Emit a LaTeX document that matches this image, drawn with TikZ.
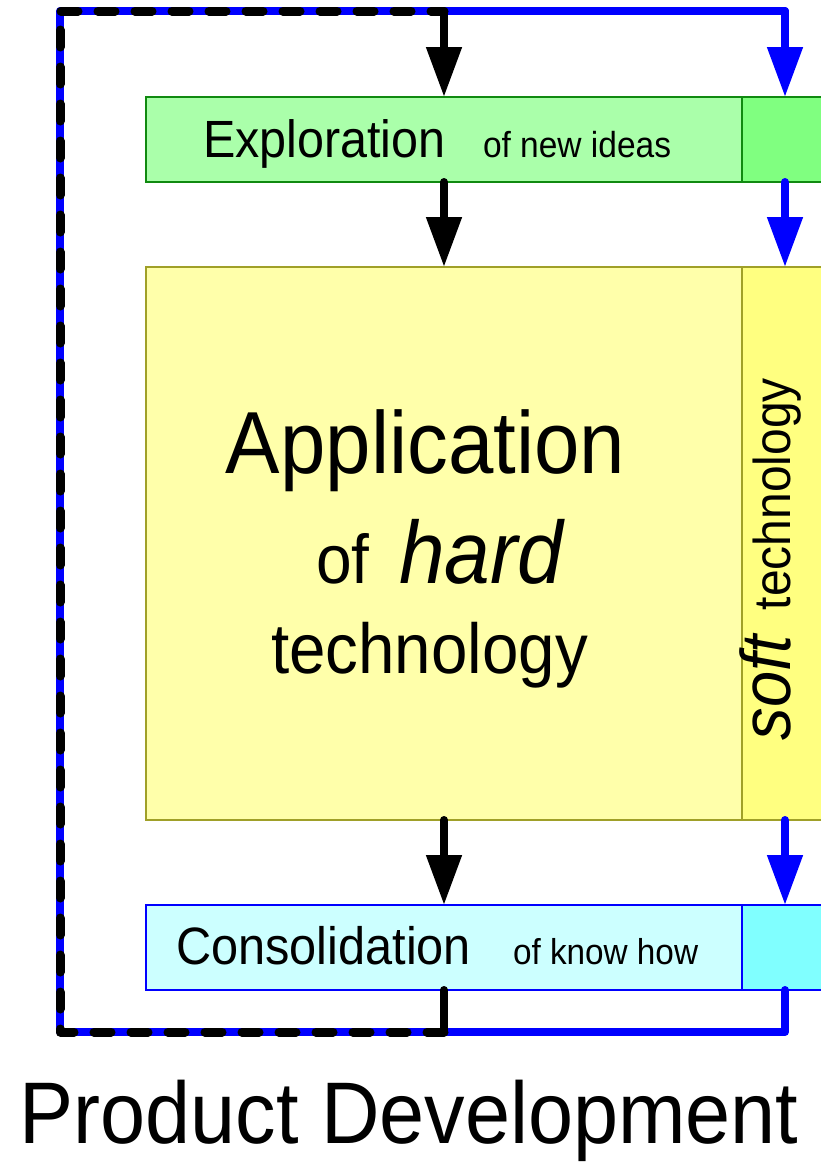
\documentclass[tikz,border=0pt]{standalone}
\usepackage{graphicx}
\usepackage{fontspec}
\setmainfont{Liberation Sans}
\usetikzlibrary{arrows.meta}

\definecolor{explfill}{HTML}{AAFFAA}
\definecolor{explside}{HTML}{80FF80}
\definecolor{explline}{HTML}{108A10}
\definecolor{appfill}{HTML}{FFFFAA}
\definecolor{appside}{HTML}{FFFF80}
\definecolor{appline}{HTML}{A0A028}
\definecolor{consfill}{HTML}{CCFFFF}
\definecolor{consside}{HTML}{80FFFF}
\definecolor{consline}{HTML}{0000FF}
\definecolor{flowblue}{HTML}{0000FF}

% font size and a slightly taller setting of the glyphs
\newcommand{\fsz}[1]{\fontsize{#1}{#1}\selectfont}
\newcommand{\tall}[1]{\scalebox{1}[1.08]{#1}}

\begin{document}
\begin{tikzpicture}[x=1pt,y=-1pt,
  box/.style={rectangle,inner sep=0pt,outer sep=0pt,anchor=north west,line width=1.3pt},
  label/.style={inner sep=0pt,outer sep=0pt,anchor=base west},
  shaft/.style={line width=8pt,line cap=round},
  head/.style={-{Triangle[width=34pt,length=50pt]}},
  loopblue/.style={line width=8pt,flowblue,line join=round},
  loopdash/.style={line width=9pt,black,line cap=round,line join=round,dash pattern=on 17pt off 20pt}
]
\useasboundingbox (0,0) rectangle (821,1162);
\clip (0,0) rectangle (821,1162);

% three stages, each with a main part and a narrow side strip
\node[box,draw=explline,fill=explfill,minimum width=596pt,minimum height=85pt] (explL) at (146,97) {};
\node[box,draw=explline,fill=explside,minimum width=90pt,minimum height=85pt] (explR) at (742,97) {};
\node[box,draw=appline,fill=appfill,minimum width=596pt,minimum height=553pt] (appL) at (146,267) {};
\node[box,draw=appline,fill=appside,minimum width=90pt,minimum height=553pt] (appR) at (742,267) {};
\node[box,draw=consline,fill=consfill,minimum width=596pt,minimum height=85pt] (consL) at (146,905) {};
\node[box,draw=consline,fill=consside,minimum width=90pt,minimum height=85pt] (consR) at (742,905) {};

% columns and corners of the feedback loop
\coordinate (bx) at (444,0);
\coordinate (ux) at (785,0);
\coordinate (tl) at (60,11);
\coordinate (tb) at (444,11);
\coordinate (tu) at (785,11);
\coordinate (bl) at (60,1032);
\coordinate (bb) at (444,1032);
\coordinate (bu) at (785,1032);

% blue loop through the side strips
\draw[loopblue,line cap=round] (consR.south -| ux) -- (bu) -- (bl) -- (tl) -- (tu) -- ++(0,40);
\draw[shaft,flowblue,head] (tu) -- (explR.north -| ux);
% black dashed loop through the main parts
\draw[loopdash] (bb) -- (bl) -- (tl) -- (tb);
\draw[shaft] (consL.south -| bx) -- (bb);
\draw[shaft,head] (tb) -- (explL.north -| bx);

% arrows between stages
\draw[shaft,head] (explL.south -| bx) -- (appL.north -| bx);
\draw[shaft,head] (appL.south -| bx) -- (consL.north -| bx);
\draw[shaft,flowblue,head] (explR.south -| ux) -- (appR.north -| ux);
\draw[shaft,flowblue,head] (appR.south -| ux) -- (consR.north -| ux);

% labels
\node[label] (t1) at (203,157) {\tall{\fsz{48.5}Exploration}};
\node[label] (t1b) at (483,157) {\tall{\fsz{33.5}of new ideas}};
\node[label,anchor=base] (t2) at (425.5,473) {\tall{\fsz{81.6}Application}};
\node[label] (t3) at (316,583) {\tall{\fsz{64}of}};
\node[label] (t3b) at (399,583) {\tall{\fsz{82}\itshape hard}};
\node[label,anchor=base] (t4) at (429.5,673) {\tall{\fsz{65.5}technology}};
\node[label,rotate=90] (t5) at (790,740) {\tall{\fsz{65}\itshape soft\hspace{25pt}\upshape\fsz{48}technology}};
\node[label] (t6) at (176,964) {\tall{\fsz{48.7}Consolidation}};
\node[label] (t6b) at (513,964) {\tall{\fsz{33.3}of know how}};
\node[label,anchor=base] (t7) at (409,1143) {\tall{\fsz{81}Product Development}};
\end{tikzpicture}
\end{document}
